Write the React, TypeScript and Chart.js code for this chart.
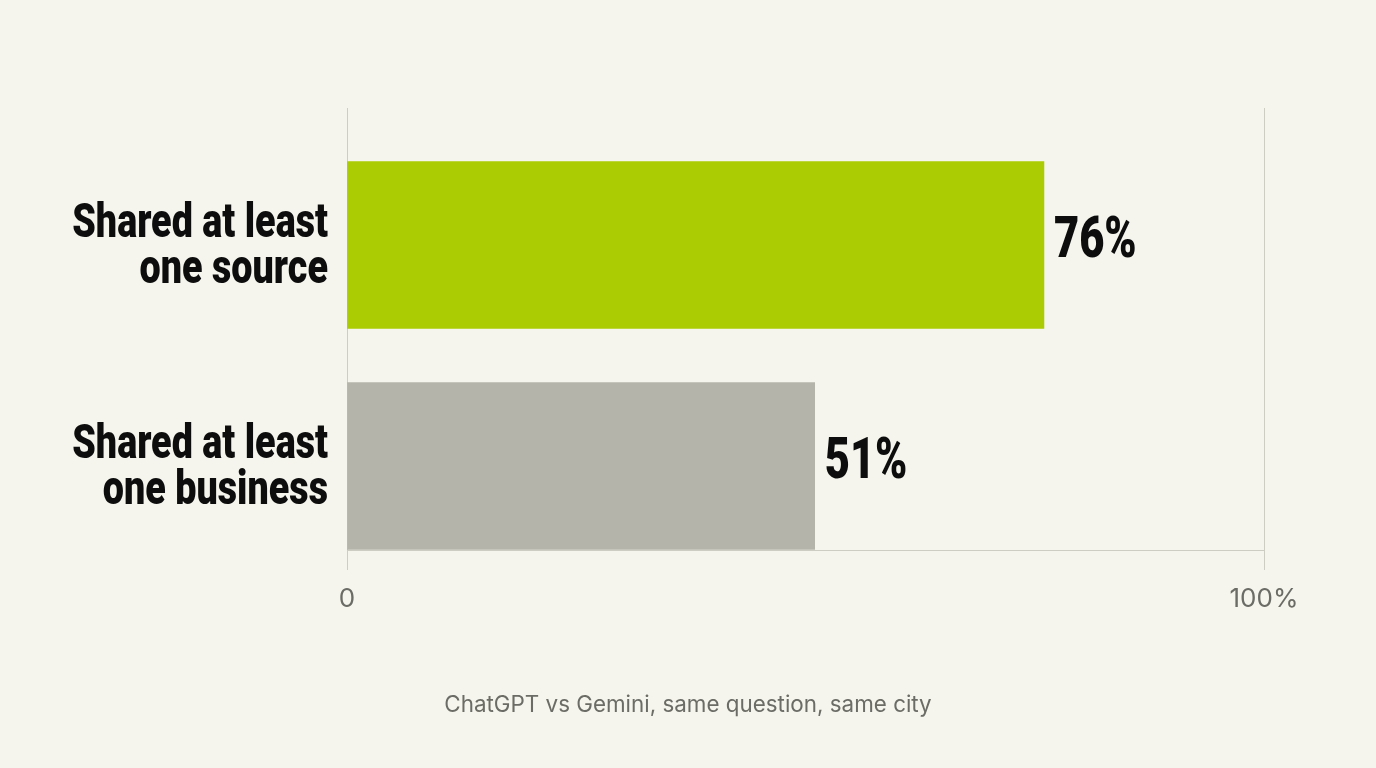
import { useRef, useEffect } from "react"
import { Chart, registerables, type ChartConfiguration } from "chart.js"

Chart.register(...registerables)

const categories = [
  ["Shared at least", "one source"],
  ["Shared at least", "one business"],
]
const shares = [76, 51]
const barColors = ["#abcb02", "#b4b4aa"]
const xTicks = [0, 100]
const caption = "ChatGPT vs Gemini, same question, same city"

// no condensed face is installed, so the heavy labels are squeezed horizontally
const headFont = "'Roboto', 'Liberation Sans', sans-serif"
const labelSqueeze = 0.77
const valueSqueeze = 0.75

// category names left of the axis and percentages past the bar ends
const barText = {
  id: "barText",
  afterDatasetsDraw(chart: Chart) {
    const ctx = chart.ctx
    const yScale = chart.scales.y
    const meta = chart.getDatasetMeta(0)
    ctx.fillStyle = "#0d0d0d"
    ctx.textBaseline = "middle"

    ctx.save()
    ctx.scale(labelSqueeze, 1)
    ctx.font = `900 49px ${headFont}`
    ctx.textAlign = "right"
    const right = (yScale.right - 19) / labelSqueeze
    categories.forEach((lines, i) => {
      const mid = yScale.getPixelForValue(i) + 3
      lines.forEach((line, j) => {
        const y = mid + (j - (lines.length - 1) / 2) * 46
        ctx.fillText(line, right, y)
      })
    })
    ctx.restore()

    ctx.save()
    ctx.scale(valueSqueeze, 1)
    ctx.font = `900 58px ${headFont}`
    ctx.textAlign = "left"
    meta.data.forEach((bar: any, i: number) => {
      ctx.fillText(`${shares[i]}%`, (bar.x + 10) / valueSqueeze, bar.y - 3)
    })
    ctx.restore()
  },
}

export default function App() {
  const canvasRef = useRef<HTMLCanvasElement>(null)
  const chartRef = useRef<Chart | null>(null)

  useEffect(() => {
    if (!canvasRef.current) return

    const config: ChartConfiguration = {
      type: "bar",
      data: {
        labels: categories.map((c) => c.join(" ")),
        datasets: [
          {
            data: shares.map((v, i) => ({ x: v, y: i })) as any,
            backgroundColor: barColors,
            barThickness: 167,
          },
        ],
      },
      options: {
        indexAxis: "y",
        animation: false,
        responsive: true,
        maintainAspectRatio: false,
        layout: { padding: { top: 108, right: 112, bottom: 138, left: 0 } },
        plugins: {
          legend: { display: false },
          tooltip: { enabled: false },
        },
        scales: {
          x: {
            type: "linear",
            min: 0,
            max: 100,
            afterBuildTicks: (scale: any) => {
              scale.ticks = xTicks.map((value) => ({ value }))
            },
            afterFit: (scale: any) => {
              scale.height = 80
            },
            grid: {
              color: "#cdcdc4",
              lineWidth: 1,
              tickLength: 20,
            },
            border: { display: true, color: "#cdcdc4" },
            ticks: {
              color: "#6c6c66",
              padding: 14,
              font: { family: "Inter, sans-serif", size: 26 },
              callback: (v: any) => (v === 0 ? "0" : `${v}%`),
            },
          },
          y: {
            type: "linear",
            reverse: true,
            offset: false,
            min: -0.62,
            max: 1.38,
            afterBuildTicks: (scale: any) => {
              scale.ticks = categories.map((_, i) => ({ value: i }))
            },
            afterFit: (scale: any) => {
              scale.width = 347
            },
            grid: { display: false, drawTicks: false },
            border: { display: false },
            ticks: { display: false },
          },
        },
      },
      plugins: [barText],
    }

    chartRef.current = new Chart(canvasRef.current, config)

    return () => {
      chartRef.current?.destroy()
      chartRef.current = null
    }
  }, [])

  return (
    <div style={{ position: "fixed", inset: 0, background: "#f5f5ee" }}>
      <canvas ref={canvasRef}></canvas>
      <div
        style={{
          position: "absolute",
          left: 0,
          right: 0,
          top: 690,
          textAlign: "center",
          fontFamily: "Inter, sans-serif",
          fontSize: 22.4,
          color: "#6c6c66",
        }}
      >
        {caption}
      </div>
    </div>
  )
}
